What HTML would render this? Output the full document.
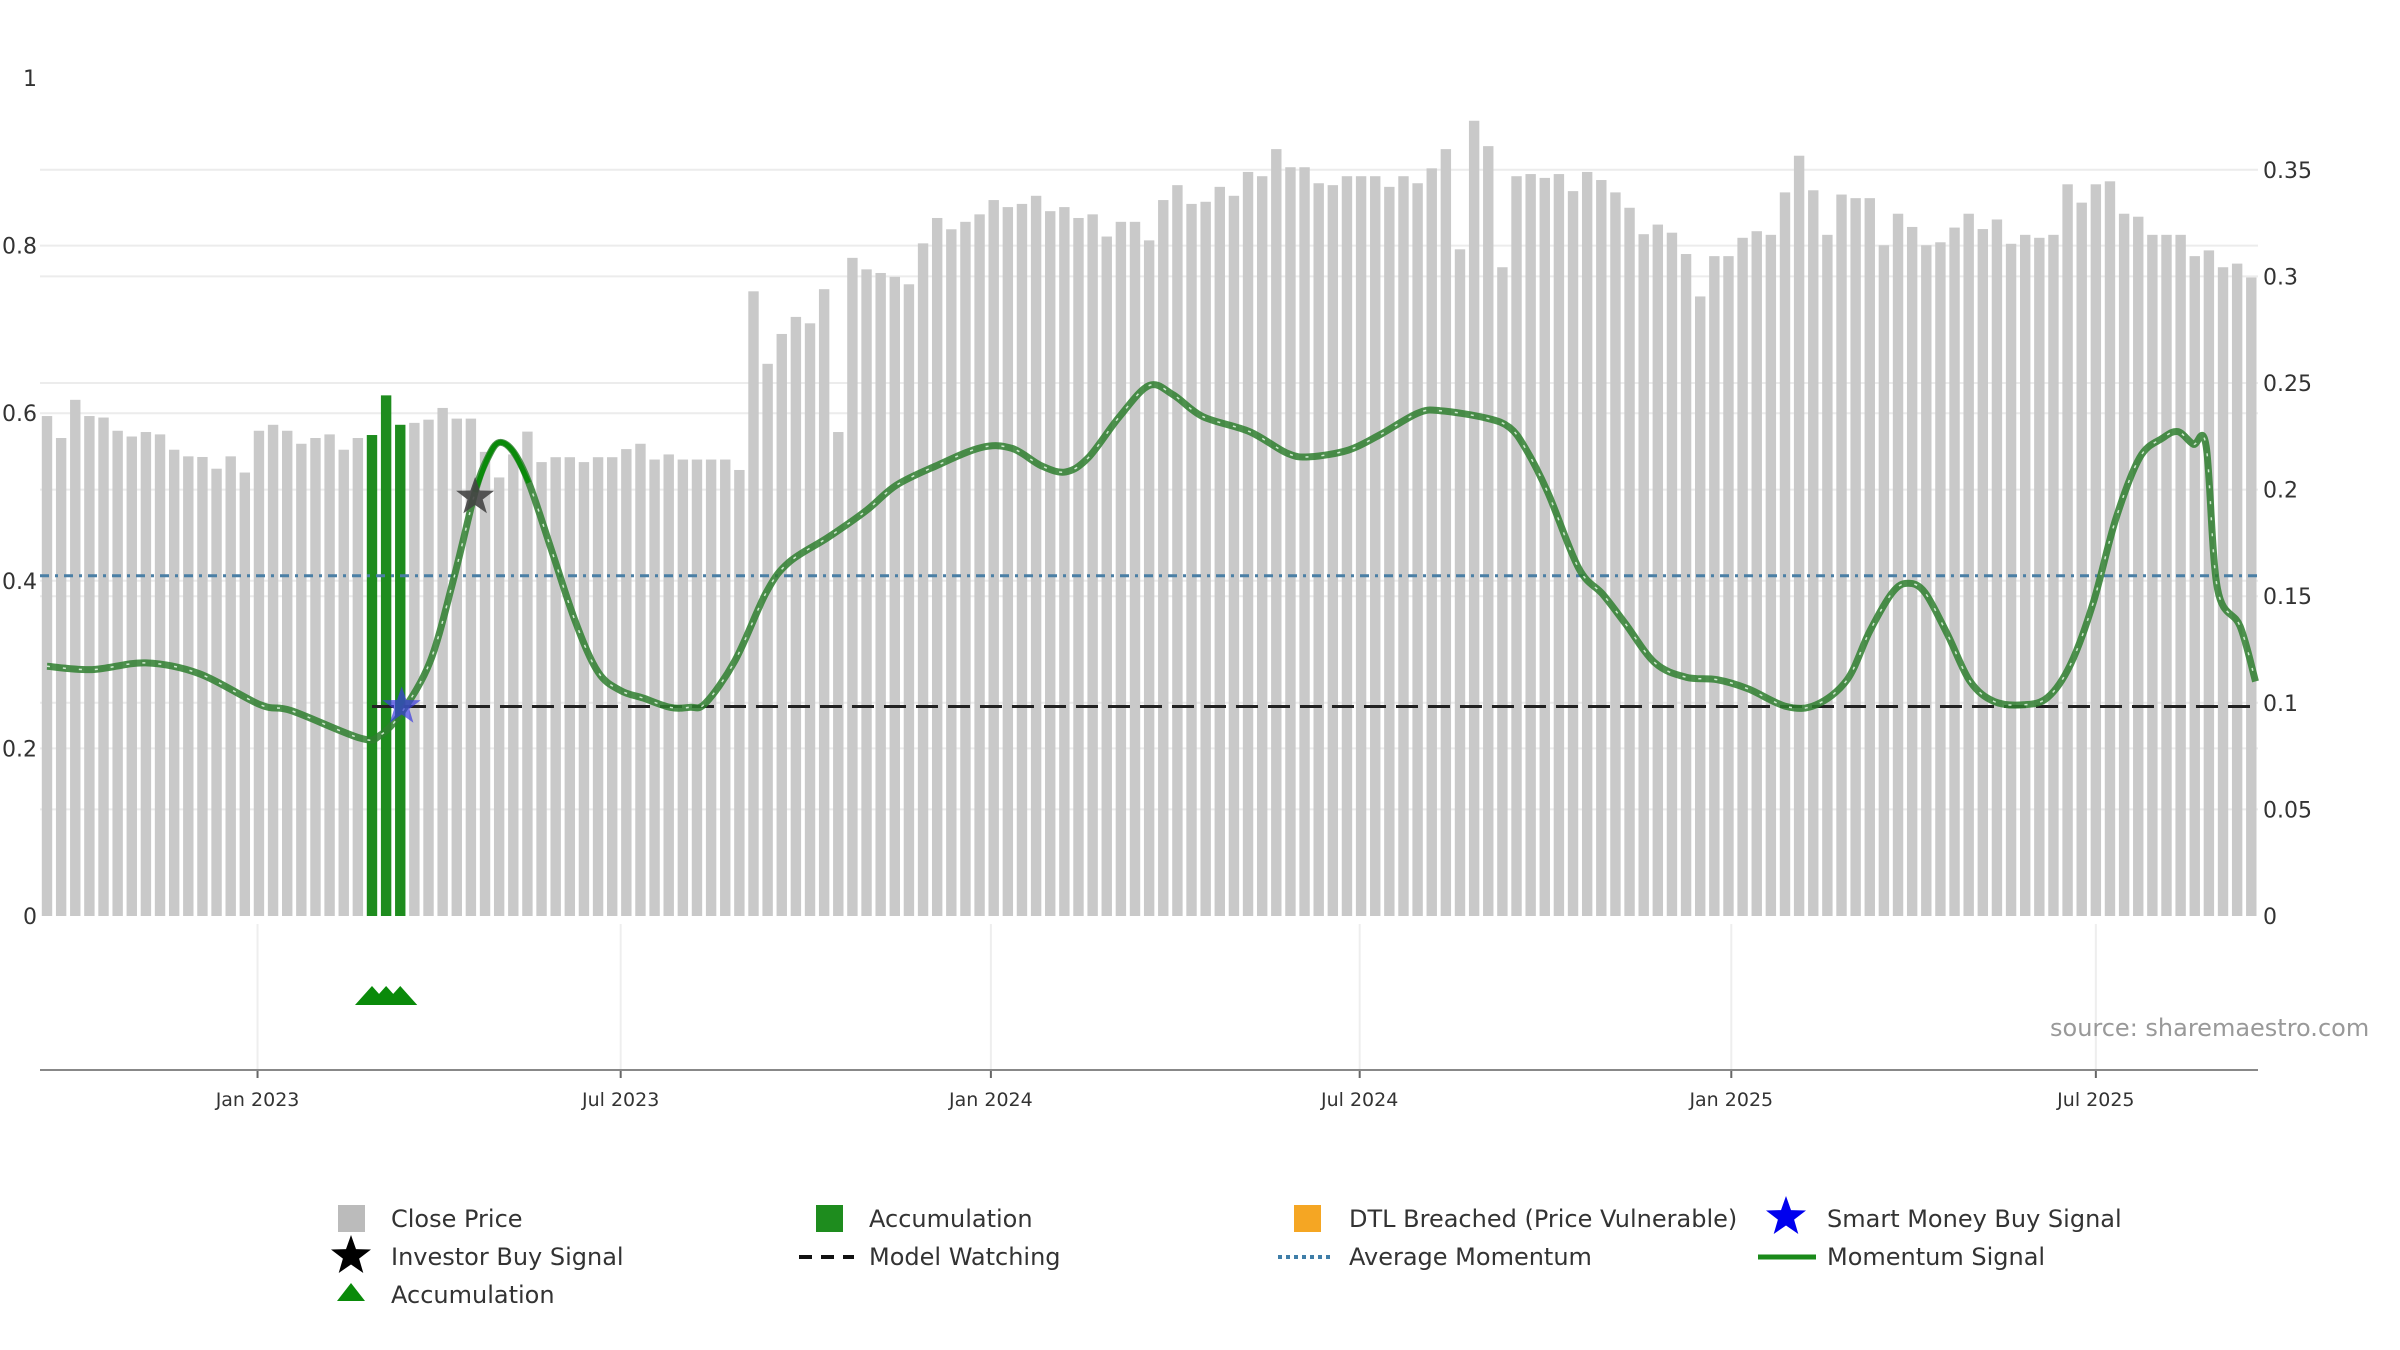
<!DOCTYPE html>
<html><head><meta charset="utf-8"><style>
body{margin:0;background:#fff}
svg{display:block;font-family:"DejaVu Sans","Liberation Sans",sans-serif}
</style></head><body>
<svg id="chart" width="2400" height="1350" viewBox="0 0 2400 1350">
<g id="grid"></g>
<g id="bars"></g>
<g id="refs"></g>
<g id="lines"></g>
<g id="marks"></g>
<g id="axes"></g>
<text x="2050" y="1036" font-size="24" fill="#999">source: sharemaestro.com</text>
<g id="legend" font-size="24" fill="#333">
 <g><rect x="338" y="1205" width="27" height="27" fill="#bbb"/><text x="391" y="1227">Close Price</text></g>
 <g><rect x="816" y="1205" width="27" height="27" fill="#1e8c1e"/><text x="869" y="1227">Accumulation</text></g>
 <g><rect x="1294" y="1205" width="27" height="27" fill="#f5a623"/><text x="1349" y="1227">DTL Breached (Price Vulnerable)</text></g>
 <g><polygon id="lstar1" fill="#0000ee"/><text x="1827" y="1227">Smart Money Buy Signal</text></g>
 <g><polygon id="lstar2" fill="#000"/><text x="391" y="1265">Investor Buy Signal</text></g>
 <g><line x1="799" y1="1257" x2="854" y2="1257" stroke="#111" stroke-width="4" stroke-dasharray="13,9"/><text x="869" y="1265">Model Watching</text></g>
 <g><line x1="1278" y1="1257" x2="1334" y2="1257" stroke="#3f7ea8" stroke-width="4" stroke-dasharray="4,4"/><text x="1349" y="1265">Average Momentum</text></g>
 <g><line x1="1758" y1="1257" x2="1816" y2="1257" stroke="#1a8a1a" stroke-width="5"/><text x="1827" y="1265">Momentum Signal</text></g>
 <g><polygon points="337,1301 351,1283 365,1301" fill="#0a8a0a"/><text x="391" y="1303">Accumulation</text></g>
</g>
</svg>
<script>
const prices=[.2345,.2242,.2421,.2345,.2338,.2276,.2249,.2270,.2259,.2187,.2156,.2153,.2098,.2156,.2080,.2276,.2304,.2276,.2215,.2242,.2259,.2187,.2242,.2256,.2442,.2304,
.2313,.2328,.2383,.2333,.2333,.2177,.2057,.2165,.2272,.2129,.2152,.2152,.2129,.2152,.2152,.2190,.2215,.2141,.2165,.2141,.2141,.2141,.2141,.2092,
.293,.259,.273,.281,.278,.294,.227,.3087,.3033,.3016,.2998,.2963,.3155,.3274,.3221,.3256,.3291,.3358,.3325,.3340,.3378,.3306,.3325,.3274,.3291,.3187,.3256,.3256,.3169,.3358,.3428,.3340,.3350,
.3420,.3378,.349,.347,.3597,.3512,.3512,.3437,.3428,.347,.347,.347,.342,.347,.3437,.3507,.3597,.3127,.373,.3611,.3043,.347,.348,.3462,.348,.340,.349,.3452,
.3394,.3322,.3198,.3243,.3205,.3105,.2906,.3095,.3095,.3181,.3212,.3195,.3394,.3566,.3404,.3195,.3384,.3367,.3367,.3146,.3294,.3232,.3146,.316,.3229,.3294,.3222,.3267,.3153,.3195,.3181,.3195,.3432,.3346,.3432,.3446,.3294,.328,.3195,.3195,.3195,.3095,.3122,.3043,.306,.2995];
const accumIdx=[23,24,25];
const momIdx=[0,3.2,7,10.8,15.1,17.3,22.2,23.6,25.1,27.1,28.7,30.3,31.2,32,33,34.1,35.7,37.4,39,40.6,42.2,44.1,45.5,46.6,48.7,50.9,52.5,55.3,58,60.1,62.9,66.1,68.3,70.4,72.1,73.7,75.9,78,79.7,81.8,85.1,87.8,89.4,92.1,94.3,97,98.6,101.9,103.5,104.6,106.2,108.4,110.1,111.7,113.8,116,118.2,120.4,123.1,125.2,127.4,129,130.6,131.7,132.9,134.5,136.1,137.8,139.9,141.6,143.2,144.8,146.4,148.1,149.7,150.8,151.9,152.8,153.6,155.2,156.3];
const momVal=[.298,.294,.302,.289,.252,.245,.212,.216,.243,.303,.397,.506,.547,.565,.554,.517,.437,.351,.291,.269,.26,.249,.249,.254,.305,.386,.422,.452,.484,.514,.537,.559,.558,.537,.530,.547,.596,.633,.622,.596,.578,.552,.548,.556,.574,.600,.603,.594,.583,.559,.506,.415,.384,.349,.302,.285,.282,.271,.250,.252,.282,.340,.386,.397,.386,.336,.280,.256,.252,.261,.300,.373,.473,.547,.570,.578,.563,.561,.391,.346,.28];
const avgMomentum=[0.406];
const watchLevel=[0.25];
const watchStart=[23];
const investorBuy=[[30.3,0.50]];
const smartMoneyBuy=[[25.1,0.25]];
const leftTicks=[0,0.2,0.4,0.6,0.8,1];
const leftTickLabels=["0","0.2","0.4","0.6","0.8","1"];
const rightTicks=[0,0.05,0.1,0.15,0.2,0.25,0.3,0.35];
const rightTickLabels=["0","0.05","0.1","0.15","0.2","0.25","0.3","0.35"];
const dateTicks=[14.9,40.6,66.8,92.9,119.2,145];
const dateTickLabels=["Jan 2023","Jul 2023","Jan 2024","Jul 2024","Jan 2025","Jul 2025"];

const NS="http://www.w3.org/2000/svg";
const X0=40,X1=2258,Y0=916;
const xS=i=>47+i*14.13;
const yL=v=>Y0-v*838;
const yR=v=>Y0-v*2132;
function mk(tag,attrs,parent){const e=document.createElementNS(NS,tag);for(const k in attrs)e.setAttribute(k,attrs[k]);parent.appendChild(e);return e;}
function starPts(cx,cy,R,r){let p=[];for(let k=0;k<10;k++){const a=-Math.PI/2+k*Math.PI/5,rr=k%2?r:R;p.push((cx+rr*Math.cos(a)).toFixed(1)+","+(cy+rr*Math.sin(a)).toFixed(1));}return p.join(" ");}
function smooth(pts){let d='M'+pts[0][0].toFixed(1)+','+pts[0][1].toFixed(1);
 for(let k=0;k<pts.length-1;k++){const p0=pts[k-1]||pts[k],p1=pts[k],p2=pts[k+1],p3=pts[k+2]||p2;
  const c1=[p1[0]+(p2[0]-p0[0])/6,p1[1]+(p2[1]-p0[1])/6],c2=[p2[0]-(p3[0]-p1[0])/6,p2[1]-(p3[1]-p1[1])/6];
  d+=' C'+c1[0].toFixed(1)+','+c1[1].toFixed(1)+' '+c2[0].toFixed(1)+','+c2[1].toFixed(1)+' '+p2[0].toFixed(1)+','+p2[1].toFixed(1);}
 return d;}
const grid=document.getElementById('grid'),bars=document.getElementById('bars'),refs=document.getElementById('refs'),lines=document.getElementById('lines'),marks=document.getElementById('marks'),axes=document.getElementById('axes');

leftTicks.forEach((t,k)=>{
 if(t>0&&t<1){const g=mk('line',{x1:X0,x2:X1,y1:yL(t),y2:yL(t),stroke:'#ececec','stroke-width':2},grid);
 
 }
 const tx=mk('text',{x:37,y:yL(t)+8,'text-anchor':'end','font-size':22,fill:'#333'},axes);tx.textContent=leftTickLabels[k];
 
 
});
rightTicks.forEach((t,k)=>{
 if(t>0){const g=mk('line',{x1:X0,x2:X1,y1:yR(t),y2:yR(t),stroke:'#ececec','stroke-width':2},grid);
 
 }
 const tx=mk('text',{x:2263,y:yR(t)+8,'font-size':22,fill:'#333'},axes);tx.textContent=rightTickLabels[k];
 
 
});
dateTicks.forEach((d,k)=>{
 const x=xS(d);
 const g=mk('line',{x1:x,x2:x,y1:924,y2:1070,stroke:'#eee','stroke-width':2},grid);
 
 
 mk('line',{x1:x,x2:x,y1:1070,y2:1078,stroke:'#666','stroke-width':2},axes);
 const tx=mk('text',{x:x,y:1106,'text-anchor':'middle','font-size':19,fill:'#333'},axes);tx.textContent=dateTickLabels[k];
 
 
});
mk('line',{x1:X0,x2:X1,y1:1070,y2:1070,stroke:'#888','stroke-width':2},axes);

prices.forEach((p,i)=>{
 const acc=accumIdx.includes(i);
 const r=mk('rect',{x:xS(i)-5.2,y:yR(p),width:10.4,height:Y0-yR(p),fill:acc?'#1e8c1e':'#c9c9c9'},bars);
 
 
});

const avg=mk('line',{x1:X0,x2:X1,y1:yL(avgMomentum[0]),y2:yL(avgMomentum[0]),stroke:'#4a7fa5','stroke-width':3,'stroke-dasharray':'9,6,3,6'},refs);


const wl=mk('line',{x1:xS(watchStart[0]),x2:X1,y1:yL(watchLevel[0]),y2:yL(watchLevel[0]),stroke:'#222','stroke-width':3,'stroke-dasharray':'22,10'},refs);



const mpts=momIdx.map((i,k)=>[xS(i),yL(momVal[k])]);
const d=smooth(mpts);
const ml=mk('path',{d:d,fill:'none',stroke:'#2f7f2f','stroke-opacity':0.85,'stroke-width':7,'stroke-linejoin':'round'},lines);


const ml2=mk('path',{d:d,fill:'none',stroke:'#cfe9cf','stroke-width':1.5,'stroke-dasharray':'3,13'},lines);


const seg=momIdx.map((i,k)=>[i,momVal[k]]).filter(p=>p[0]>=30.3&&p[0]<=34.1).map(p=>[xS(p[0]),yL(p[1])]);
const hs=mk('path',{d:smooth(seg),fill:'none',stroke:'#0a8a0a','stroke-width':5},lines);



investorBuy.forEach(p=>{const s=mk('polygon',{points:starPts(xS(p[0]),yL(p[1]),20,8),fill:'#444','fill-opacity':0.9},marks);
 
 });
smartMoneyBuy.forEach(p=>{const s=mk('polygon',{points:starPts(xS(p[0]),yL(p[1]),20,8),fill:'#3a3ae0','fill-opacity':0.7},marks);
 
 });
accumIdx.forEach(i=>{const x=xS(i);const t=mk('polygon',{points:(x-17)+',1005 '+x+',986 '+(x+17)+',1005',fill:'#0a8a0a'},marks);
 
 });

document.getElementById('lstar1').setAttribute('points',starPts(1786,1217,21,8.5));
document.getElementById('lstar2').setAttribute('points',starPts(351,1256,21,8.5));
</script>
</body></html>
